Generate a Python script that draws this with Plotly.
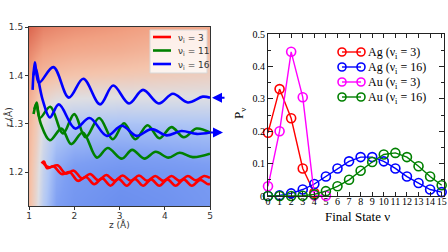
import plotly.graph_objects as go

# ---------------- Left panel data: trajectories r(z) (read peaks/troughs) ----------------
blue1_z = [1.08, 1.13, 1.22, 1.54, 1.88, 2.20, 2.57, 2.86, 3.21, 3.52, 3.87, 4.18, 4.51, 4.84, 5.0]
blue1_r = [1.370, 1.427, 1.385, 1.417, 1.354, 1.393, 1.340, 1.379, 1.342, 1.370, 1.342, 1.362, 1.344, 1.356, 1.354]
blue2_z = [1.10, 1.14, 1.30, 1.46, 1.66, 2.02, 2.34, 2.72, 3.05, 3.38, 3.71, 4.04, 4.37, 4.71, 5.0]
blue2_r = [1.400, 1.415, 1.350, 1.313, 1.340, 1.290, 1.312, 1.275, 1.296, 1.275, 1.289, 1.276, 1.285, 1.279, 1.282]
green1_z = [1.10, 1.17, 1.24, 1.47, 1.75, 2.00, 2.25, 2.55, 2.85, 3.10, 3.35, 3.62, 3.88, 4.15, 4.42, 4.70, 5.0]
green1_r = [1.320, 1.344, 1.312, 1.335, 1.280, 1.320, 1.272, 1.312, 1.268, 1.301, 1.268, 1.297, 1.270, 1.293, 1.272, 1.290, 1.282]
green2_z = [1.12, 1.16, 1.26, 1.46, 1.72, 1.93, 2.19, 2.50, 2.74, 3.05, 3.28, 3.55, 3.80, 4.08, 4.33, 4.62, 5.0]
green2_r = [1.330, 1.340, 1.300, 1.266, 1.290, 1.258, 1.282, 1.230, 1.250, 1.228, 1.246, 1.228, 1.242, 1.230, 1.240, 1.231, 1.238]
red1_z = [1.30, 1.36, 1.45, 1.63, 1.81, 1.99, 2.17, 2.35, 2.53, 2.71, 2.89, 3.07, 3.25, 3.43, 3.61, 3.79, 3.97, 4.15, 4.33, 4.51, 4.69, 4.87, 5.0]
red1_r = [1.222, 1.214, 1.210, 1.214, 1.197, 1.203, 1.187, 1.196, 1.183, 1.194, 1.182, 1.193, 1.182, 1.193, 1.182, 1.192, 1.182, 1.192, 1.182, 1.192, 1.183, 1.192, 1.188]
red2_z = [1.28, 1.33, 1.40, 1.54, 1.72, 1.90, 2.08, 2.26, 2.44, 2.62, 2.80, 2.98, 3.16, 3.34, 3.52, 3.70, 3.88, 4.06, 4.24, 4.42, 4.60, 4.78, 4.96, 5.0]
red2_r = [1.218, 1.222, 1.208, 1.212, 1.196, 1.200, 1.182, 1.190, 1.175, 1.187, 1.172, 1.186, 1.172, 1.186, 1.172, 1.185, 1.172, 1.185, 1.172, 1.185, 1.172, 1.184, 1.175, 1.176]

bg_z = [0.9, 1.0, 1.15, 1.3, 1.6, 2.0, 3.0, 4.0, 5.0, 5.1]
bg_r = [1.10, 1.13, 1.20, 1.30, 1.35, 1.40, 1.45, 1.50, 1.52]
bg_v = [
    [0.70, 0.68, 0.54, 0.36, 0.16, 0.08, 0.02, 0.05, 0.10, 0.10],
    [0.70, 0.68, 0.54, 0.36, 0.16, 0.08, 0.02, 0.05, 0.10, 0.10],
    [0.71, 0.69, 0.56, 0.40, 0.20, 0.12, 0.07, 0.09, 0.12, 0.12],
    [0.73, 0.71, 0.62, 0.48, 0.36, 0.32, 0.30, 0.31, 0.32, 0.32],
    [0.76, 0.74, 0.66, 0.56, 0.51, 0.49, 0.48, 0.48, 0.48, 0.48],
    [0.83, 0.81, 0.74, 0.70, 0.67, 0.65, 0.63, 0.61, 0.59, 0.59],
    [0.90, 0.88, 0.84, 0.80, 0.78, 0.76, 0.74, 0.70, 0.68, 0.68],
    [1.00, 0.97, 0.93, 0.89, 0.87, 0.85, 0.82, 0.78, 0.76, 0.76],
    [1.00, 0.97, 0.93, 0.89, 0.87, 0.85, 0.82, 0.78, 0.76, 0.76],
]
left_labels = ["ν<sub>i</sub> = 3", "ν<sub>i</sub> = 11", "ν<sub>i</sub> = 16"]
left_colors = ["#ff0000", "#008000", "#0000ff"]

# ---------------- Right panel data ----------------
states = list(range(16))
ag3 = [0.195, 0.330, 0.240, 0.085, 0.010, None, None, None, None, None, None, None, None, None, None, None]
ag16 = [0.000, 0.002, 0.008, 0.020, 0.037, 0.060, 0.085, 0.107, 0.120, 0.120, 0.107, 0.085, 0.060, 0.040, 0.020, 0.012]
au3 = [0.030, 0.200, 0.445, 0.305, 0.002, 0.001, None, None, None, None, None, None, None, None, None, None]
au16 = [0.000, 0.000, 0.000, 0.001, 0.005, 0.015, 0.030, 0.050, 0.078, 0.105, 0.128, 0.133, 0.120, 0.092, 0.060, 0.033]
right_labels = ["Ag (ν<sub>i</sub> = 3)", "Ag (ν<sub>i</sub> = 16)", "Au (ν<sub>i</sub> = 3)", "Au (ν<sub>i</sub> = 16)"]
right_colors = ["#ff0000", "#0000ff", "#ff00ff", "#008000"]
p_ticks = [0, 0.1, 0.2, 0.3, 0.4, 0.5]
p_ticktext = ["0", "0.1", "0.2", "0.3", "0.4", "0.5"]

fig = go.Figure()

cs = [[0.0, "rgb(104,140,238)"], [0.15, "rgb(125,158,243)"], [0.32, "rgb(175,198,245)"],
      [0.5, "rgb(222,222,226)"], [0.65, "rgb(244,196,172)"], [0.8, "rgb(241,160,130)"],
      [1.0, "rgb(216,92,70)"]]
fig.add_trace(go.Heatmap(x=bg_z, y=bg_r, z=bg_v, zsmooth="best", colorscale=cs, zmin=0, zmax=1,
                         showscale=False, hoverinfo="skip", xaxis="x", yaxis="y"))

lw = 2.6
def traj(zs, rs, color):
    fig.add_trace(go.Scatter(x=zs, y=rs, mode="lines", line=dict(color=color, width=lw, shape="spline", smoothing=1.0),
                             showlegend=False, xaxis="x", yaxis="y"))

traj(red1_z, red1_r, left_colors[0])
traj(red2_z, red2_r, left_colors[0])
traj(green1_z, green1_r, left_colors[1])
traj(green2_z, green2_r, left_colors[1])
traj(blue1_z, blue1_r, left_colors[2])
traj(blue2_z, blue2_r, left_colors[2])

for vals, color, name in zip([ag3, ag16, au3, au16], right_colors, right_labels):
    fig.add_trace(go.Scatter(x=states, y=vals, mode="lines+markers", name=name, showlegend=False,
                             line=dict(color=color, width=1.4),
                             marker=dict(symbol="circle-open", size=9, color=color, line=dict(width=1.6, color=color)),
                             cliponaxis=False, xaxis="x2", yaxis="y2"))

W, H = 448, 252
def px(x): return x / W
def py(y): return 1 - y / H

sans = dict(family="DejaVu Sans", size=9, color="#333333")
serif = dict(family="Liberation Serif", size=10, color="#000000")

fig.update_layout(
    width=W, height=H, margin=dict(l=0, r=0, t=0, b=0),
    paper_bgcolor="white", plot_bgcolor="white", showlegend=False,
    xaxis=dict(domain=[px(29), px(210)], range=[1, 5], tickvals=[1, 2, 3, 4, 5], ticks="outside",
               ticklen=3, tickcolor="#333", showgrid=False, zeroline=False, showline=True, linecolor="#333",
               linewidth=1, mirror=True, tickfont=sans, automargin=False, ticklabelstandoff=-2),
    yaxis=dict(domain=[py(206), py(27)], range=[1.13, 1.5], tickvals=[1.2, 1.3, 1.4, 1.5], ticks="outside",
               ticklen=3, tickcolor="#333", showgrid=False, zeroline=False, showline=True, linecolor="#333",
               linewidth=1, mirror=True, tickfont=sans, tickformat=".1f", automargin=False),
    xaxis2=dict(domain=[px(268), px(444)], range=[0, 15.2], tickvals=states, ticks="inside", ticklen=4,
                tickcolor="#222", showgrid=False, zeroline=False, showline=True, linecolor="#222", linewidth=1,
                mirror="allticks", tickfont=serif, tickangle=0, anchor="y2", automargin=False,
                ticklabelstandoff=-4),
    yaxis2=dict(domain=[py(196), py(34)], range=[0, 0.5], tickvals=p_ticks, ticktext=p_ticktext,
                ticks="inside", ticklen=5, tickcolor="#222", showgrid=False, zeroline=False, showline=True,
                linecolor="#222", linewidth=1, mirror="allticks", tickfont=serif, anchor="x2", automargin=False,
                minor=dict(dtick=0.05, ticks="inside", ticklen=3, tickcolor="#222")),
)

def note(x, y, text, font, xanchor="center", angle=0):
    fig.add_annotation(xref="paper", yref="paper", x=px(x), y=py(y), text=text, showarrow=False, font=font,
                       xanchor=xanchor, yanchor="middle", textangle=angle)

# axis titles
note(119, 224, "z (Å)", sans)
note(8, 117, "r (Å)", sans, angle=-90)
note(357, 216, "Final State ν", dict(family="Liberation Serif", size=13, color="#000"))
note(240, 114, "P<sub>ν</sub>", dict(family="Liberation Serif", size=13, color="#000"), angle=-90)

# left legend (manual, matplotlib style)
fig.add_shape(type="rect", xref="paper", yref="paper", x0=px(150), x1=px(207), y0=py(73), y1=py(30),
              fillcolor="rgba(255,255,255,0.8)", line=dict(color="#d8d8d8", width=1))
for i, (lab, col) in enumerate(zip(left_labels, left_colors)):
    yy = 37 + 13.5 * i
    fig.add_shape(type="line", xref="paper", yref="paper", x0=px(153), x1=px(171), y0=py(yy), y1=py(yy),
                  line=dict(color=col, width=2.6))
    note(176, yy + 1, lab, sans, xanchor="left")

# right legend (manual, xmgrace style)
for i, (lab, col) in enumerate(zip(right_labels, right_colors)):
    yy = 52 + 15 * i
    fig.add_shape(type="line", xref="paper", yref="paper", x0=px(342), x1=px(361), y0=py(yy), y1=py(yy),
                  line=dict(color=col, width=1.4))
    for cx in (342, 361):
        fig.add_shape(type="circle", xref="paper", yref="paper", x0=px(cx - 4), x1=px(cx + 4),
                      y0=py(yy + 4), y1=py(yy - 4), line=dict(color=col, width=1.6), fillcolor="rgba(0,0,0,0)")
    note(366, yy + 1, lab, dict(family="Liberation Serif", size=12, color="#000"), xanchor="left")

# arrows at right side of left panel
fig.add_annotation(xref="paper", yref="y", x=px(212), y=1.354, ax=14, ay=0, axref="pixel", ayref="pixel",
                   showarrow=True, arrowhead=2, arrowsize=1, arrowwidth=2, arrowcolor="#0000ff", text="")
fig.add_annotation(xref="paper", yref="y", x=px(223), y=1.282, ax=-14, ay=0, axref="pixel", ayref="pixel",
                   showarrow=True, arrowhead=2, arrowsize=1, arrowwidth=2, arrowcolor="#0000ff", text="")

fig.write_html("out.html", config={"displayModeBar": False},
               post_script="document.body.style.margin='0';document.body.style.padding='0';")
